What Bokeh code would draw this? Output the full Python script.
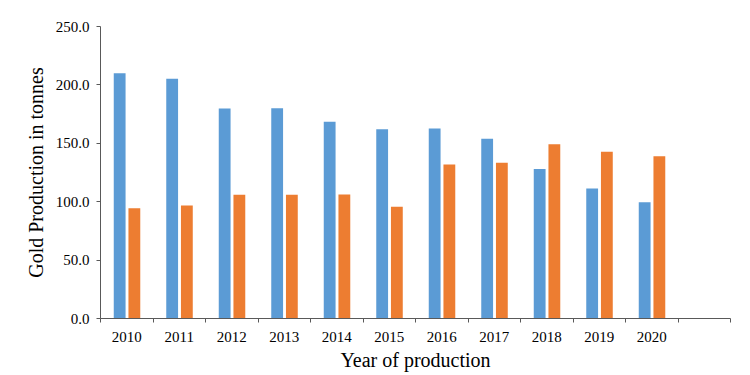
from bokeh.plotting import figure
from bokeh.models import FixedTicker, NumeralTickFormatter, Range1d, ColumnDataSource
from bokeh.transform import dodge
from bokeh.embed import file_html
from bokeh.resources import INLINE

years = [2010, 2011, 2012, 2013, 2014, 2015, 2016, 2017, 2018, 2019, 2020]
series_a = [210.0, 205.2, 179.8, 180.0, 168.4, 162.0, 162.7, 154.0, 128.0, 111.3, 99.6]
series_b = [94.4, 96.7, 105.9, 106.0, 106.2, 95.6, 131.8, 133.3, 149.2, 142.7, 139.0]
y_ticks = [0, 50, 100, 150, 200, 250]

FONT = "Liberation Serif"
BLUE = "#5B9BD5"
ORANGE = "#ED7D31"
AXIS = "#595959"

src = ColumnDataSource(dict(year=years, a=series_a, b=series_b))

n_slots = len(years) + 1
p = figure(width=750, height=375, output_backend="svg", toolbar_location=None,
           x_range=Range1d(years[0] - 0.5, years[0] - 0.5 + n_slots),
           y_range=Range1d(0, 250),
           min_border_left=100, min_border_right=20, min_border_top=26, min_border_bottom=57)

p.vbar(x=dodge("year", -0.135, range=p.x_range), top="a", width=0.225, source=src,
       fill_color=BLUE, line_color=None)
p.vbar(x=dodge("year", 0.145, range=p.x_range), top="b", width=0.225, source=src,
       fill_color=ORANGE, line_color=None)

boundaries = [years[0] - 0.5 + i for i in range(n_slots + 1)]
xa = p.xaxis[0]
xa.ticker = FixedTicker(ticks=years, minor_ticks=boundaries)
xa.major_tick_out = 0
xa.major_tick_in = 0
xa.minor_tick_out = 4
xa.minor_tick_in = 0
xa.minor_tick_line_color = AXIS
xa.axis_line_color = AXIS
xa.major_label_standoff = 9
xa.major_label_text_font = FONT
xa.major_label_text_font_size = "15px"
xa.major_label_text_color = "#000000"
xa.axis_label = "Year of production"
xa.axis_label_text_font = FONT
xa.axis_label_text_font_size = "20px"
xa.axis_label_text_font_style = "normal"
xa.axis_label_text_color = "#000000"
xa.axis_label_standoff = 4

ya = p.yaxis[0]
ya.ticker = FixedTicker(ticks=y_ticks, minor_ticks=[])
ya.formatter = NumeralTickFormatter(format="0.0")
ya.major_tick_out = 4
ya.major_tick_in = 0
ya.minor_tick_out = 0
ya.minor_tick_in = 0
ya.major_tick_line_color = AXIS
ya.axis_line_color = AXIS
ya.major_label_standoff = 7
ya.major_label_text_font = FONT
ya.major_label_text_font_size = "15px"
ya.major_label_text_color = "#000000"
ya.axis_label = "Gold Production in tonnes"
ya.axis_label_text_font = FONT
ya.axis_label_text_font_size = "20px"
ya.axis_label_text_font_style = "normal"
ya.axis_label_text_color = "#000000"
ya.axis_label_standoff = 6

p.xgrid.grid_line_color = None
p.ygrid.grid_line_color = None
p.outline_line_color = None

open("out.html", "w").write(file_html(p, INLINE))
